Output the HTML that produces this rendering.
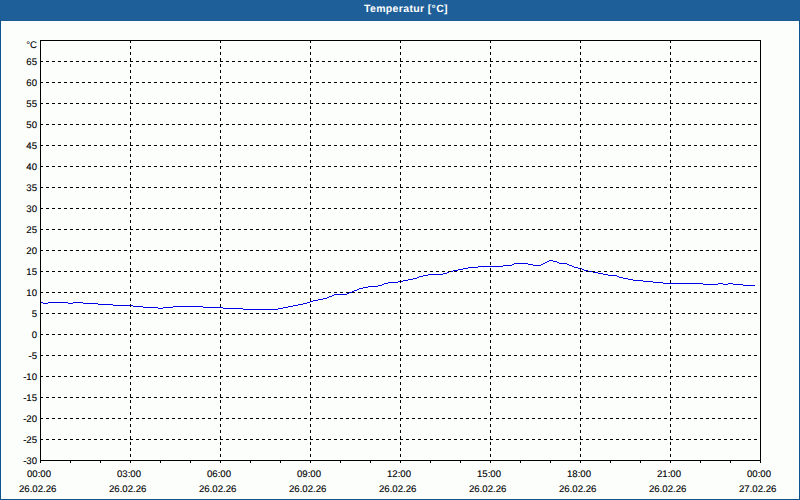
<!DOCTYPE html>
<html><head><meta charset="utf-8">
<style>
html,body{margin:0;padding:0;width:800px;height:500px;overflow:hidden;background:#1e5f96;}
#win{position:absolute;left:0;top:0;width:800px;height:500px;background:#1e5f96;}
#title{position:absolute;left:0;top:0;width:800px;height:21px;background:#1e5f96;}
#title span{position:absolute;left:364px;top:3px;color:#fff;font:bold 10.5px "Liberation Sans",sans-serif;letter-spacing:0.35px;line-height:12px;white-space:nowrap;text-rendering:geometricPrecision;}
#bl{position:absolute;left:0;top:20px;width:1px;height:480px;background:#0f5391;}
#br{position:absolute;left:799px;top:20px;width:1px;height:480px;background:#0f5391;}
#bb{position:absolute;left:0;top:499px;width:800px;height:1px;background:#0f5391;}
#bt{position:absolute;left:0;top:20px;width:800px;height:1px;background:#1c5c93;}
#client{position:absolute;left:1px;top:21px;width:798px;height:478px;background:#fcfefc;}
svg{position:absolute;left:0;top:0;}
.yl{position:absolute;right:763px;font:9.6px "Liberation Sans",sans-serif;line-height:12px;color:#000;white-space:nowrap;text-rendering:geometricPrecision;-webkit-text-stroke:0.12px #000;}
.xl{position:absolute;font:9.6px "Liberation Sans",sans-serif;line-height:12px;color:#000;white-space:nowrap;text-rendering:geometricPrecision;-webkit-text-stroke:0.12px #000;}
</style></head><body>
<div id="win">
<div id="title"><svg width="800" height="20" style="position:absolute;left:0;top:0"><defs><pattern id="dp" x="0" y="0" width="8" height="8" patternUnits="userSpaceOnUse"><rect x="1" y="1" width="1" height="1" fill="#225eb0"/><rect x="5" y="1" width="1" height="1" fill="#225eb0"/><rect x="3" y="3" width="1" height="1" fill="#225eb0"/><rect x="7" y="3" width="1" height="1" fill="#225eb0"/><rect x="0" y="5" width="1" height="1" fill="#225eb0"/><rect x="4" y="5" width="1" height="1" fill="#225eb0"/><rect x="2" y="7" width="1" height="1" fill="#225eb0"/><rect x="6" y="7" width="1" height="1" fill="#225eb0"/></pattern></defs><rect width="800" height="20" fill="url(#dp)" shape-rendering="crispEdges"/></svg><span>Temperatur [°C]</span></div>
<div id="bt"></div>
<div id="bl"></div><div id="br"></div><div id="bb"></div>
<div id="client"></div>
<svg width="800" height="500" viewBox="0 0 800 500" shape-rendering="crispEdges">
<path d="M41 302h2v1h-2zM43 303h5v1h-5zM48 302h20v1h-20zM68 303h5v1h-5zM73 302h10v1h-10zM83 303h15v1h-15zM98 304h15v1h-15zM113 305h20v1h-20zM133 306h10v1h-10zM143 307h15v1h-15zM158 308h5v1h-5zM163 307h10v1h-10zM173 306h30v1h-30zM203 307h20v1h-20zM223 308h20v1h-20zM243 309h35v1h-35zM278 308h5v1h-5zM283 307h5v1h-5zM288 306h5v1h-5zM293 305h5v1h-5zM298 304h5v1h-5zM303 303h4v1h-4zM307 302h3v1h-3zM310 301h3v1h-3zM313 300h5v1h-5zM318 299h5v1h-5zM323 298h4v1h-4zM327 297h2v1h-2zM329 296h3v1h-3zM332 295h2v1h-2zM334 294h13v1h-13zM347 293h2v1h-2zM349 292h3v1h-3zM352 291h2v1h-2zM354 290h3v1h-3zM357 289h2v1h-2zM359 288h4v1h-4zM363 287h5v1h-5zM368 286h10v1h-10zM378 285h4v1h-4zM382 284h2v1h-2zM384 283h4v1h-4zM388 282h10v1h-10zM398 281h5v1h-5zM403 280h5v1h-5zM408 279h5v1h-5zM413 278h4v1h-4zM417 277h2v1h-2zM419 276h4v1h-4zM423 275h5v1h-5zM428 274h15v1h-15zM443 273h4v1h-4zM447 272h2v1h-2zM449 271h4v1h-4zM453 270h5v1h-5zM458 269h5v1h-5zM463 268h5v1h-5zM468 267h10v1h-10zM478 266h25v1h-25zM503 265h9v1h-9zM512 264h2v1h-2zM514 263h14v1h-14zM528 264h5v1h-5zM533 265h8v1h-8zM541 264h2v1h-2zM543 263h2v1h-2zM545 262h2v1h-2zM547 261h2v1h-2zM549 260h4v1h-4zM553 261h4v1h-4zM557 262h2v1h-2zM559 263h8v1h-8zM567 264h2v1h-2zM569 265h3v1h-3zM572 266h2v1h-2zM574 267h4v1h-4zM578 268h4v1h-4zM582 269h2v1h-2zM584 270h4v1h-4zM588 271h5v1h-5zM593 272h5v1h-5zM598 273h5v1h-5zM603 274h5v1h-5zM608 275h9v1h-9zM617 276h2v1h-2zM619 277h4v1h-4zM623 278h5v1h-5zM628 279h5v1h-5zM633 280h10v1h-10zM643 281h10v1h-10zM653 282h10v1h-10zM663 283h40v1h-40zM703 284h15v1h-15zM718 283h5v1h-5zM723 284h5v1h-5zM728 283h5v1h-5zM733 284h10v1h-10zM743 285h12v1h-12z" fill="#0000e6"/>
<path d="M40 61.5H760M40 82.5H760M40 103.5H760M40 124.5H760M40 145.5H760M40 166.5H760M40 187.5H760M40 208.5H760M40 229.5H760M40 250.5H760M40 271.5H760M40 292.5H760M40 313.5H760M40 334.5H760M40 355.5H760M40 376.5H760M40 397.5H760M40 418.5H760M40 439.5H760" stroke="#000" stroke-width="1" stroke-dasharray="3 3" fill="none"/>
<path d="M130.5 40V460M220.5 40V460M310.5 40V460M400.5 40V460M490.5 40V460M580.5 40V460M670.5 40V460" stroke="#000" stroke-width="1" stroke-dasharray="3 3" fill="none"/>
<rect x="40.5" y="40.5" width="720" height="420" stroke="#000" stroke-width="1" fill="none"/>
<path d="M40.5 460v3M70.5 460v3M100.5 460v3M130.5 460v3M160.5 460v3M190.5 460v3M220.5 460v3M250.5 460v3M280.5 460v3M310.5 460v3M340.5 460v3M370.5 460v3M400.5 460v3M430.5 460v3M460.5 460v3M490.5 460v3M520.5 460v3M550.5 460v3M580.5 460v3M610.5 460v3M640.5 460v3M670.5 460v3M700.5 460v3M730.5 460v3M760.5 460v3" stroke="#000" stroke-width="1" fill="none"/>
</svg>
<div class="yl" style="top:40px">°C</div>
<div class="yl" style="top:57px">65</div>
<div class="yl" style="top:78px">60</div>
<div class="yl" style="top:99px">55</div>
<div class="yl" style="top:120px">50</div>
<div class="yl" style="top:141px">45</div>
<div class="yl" style="top:162px">40</div>
<div class="yl" style="top:183px">35</div>
<div class="yl" style="top:204px">30</div>
<div class="yl" style="top:225px">25</div>
<div class="yl" style="top:246px">20</div>
<div class="yl" style="top:267px">15</div>
<div class="yl" style="top:288px">10</div>
<div class="yl" style="top:309px">5</div>
<div class="yl" style="top:330px">0</div>
<div class="yl" style="top:351px">-5</div>
<div class="yl" style="top:372px">-10</div>
<div class="yl" style="top:393px">-15</div>
<div class="yl" style="top:414px">-20</div>
<div class="yl" style="top:435px">-25</div>
<div class="yl" style="top:456px">-30</div>
<div class="xl" style="left:27px;top:469px">00:00</div>
<div class="xl" style="left:19px;top:484px">26.02.26</div>
<div class="xl" style="left:117px;top:469px">03:00</div>
<div class="xl" style="left:109px;top:484px">26.02.26</div>
<div class="xl" style="left:207px;top:469px">06:00</div>
<div class="xl" style="left:199px;top:484px">26.02.26</div>
<div class="xl" style="left:297px;top:469px">09:00</div>
<div class="xl" style="left:289px;top:484px">26.02.26</div>
<div class="xl" style="left:387px;top:469px">12:00</div>
<div class="xl" style="left:379px;top:484px">26.02.26</div>
<div class="xl" style="left:477px;top:469px">15:00</div>
<div class="xl" style="left:469px;top:484px">26.02.26</div>
<div class="xl" style="left:567px;top:469px">18:00</div>
<div class="xl" style="left:559px;top:484px">26.02.26</div>
<div class="xl" style="left:657px;top:469px">21:00</div>
<div class="xl" style="left:649px;top:484px">26.02.26</div>
<div class="xl" style="left:747px;top:469px">00:00</div>
<div class="xl" style="left:739px;top:484px">27.02.26</div>
</div></body></html>
